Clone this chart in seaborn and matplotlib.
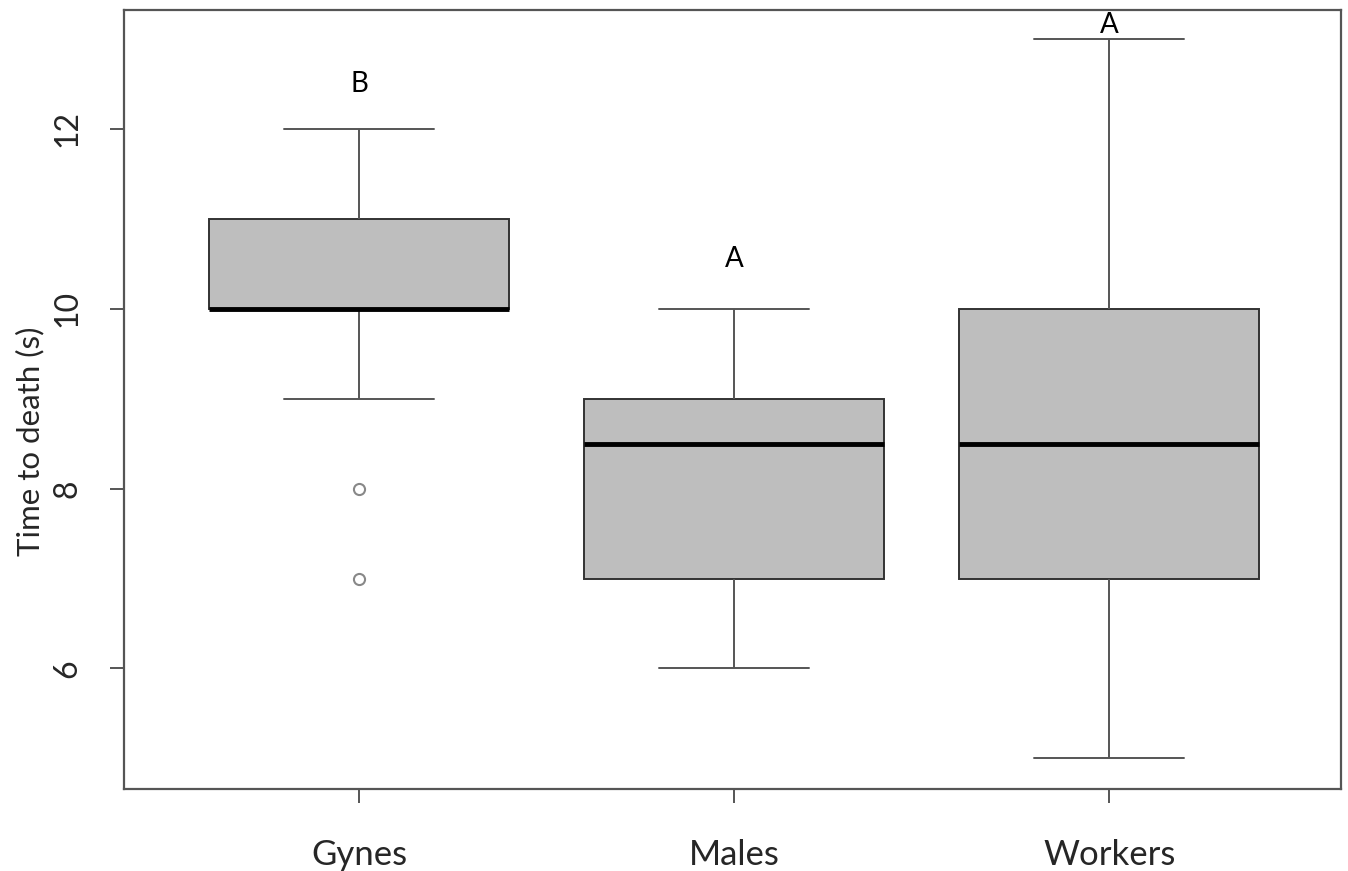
import numpy as np
import pandas as pd
import matplotlib
matplotlib.use("Agg")
import matplotlib.pyplot as plt
import seaborn as sns

# dados (tempo até a morte, em segundos)
castas = ["Gynes", "Males", "Workers"]
gynes = [7, 8, 9, 10, 10, 10, 10, 10, 10, 11, 11, 11, 12]
males = [6, 7, 7, 7, 8, 8, 9, 9, 9, 9, 10, 10]
workers = [5, 7, 7, 7, 8, 8, 9, 10, 10, 10, 12, 13]
letras = ["B", "A", "A"]
pos_letras = [12.5, 10.55, 13.15]

df = pd.DataFrame({
    "casta": ["Gynes"] * len(gynes) + ["Males"] * len(males) + ["Workers"] * len(workers),
    "tempo": gynes + males + workers,
})

sns.set_style("white")
plt.rcParams["font.family"] = ["Lato", "DejaVu Sans"]

fig = plt.figure(figsize=(13.48, 8.71), dpi=100)
ax = fig.add_axes([124 / 1348, 1 - 789 / 871, (1341 - 124) / 1348, (789 - 10) / 871])

cinza = "#555555"
sns.boxplot(data=df, x="casta", y="tempo", order=castas, ax=ax,
            color="#bebebe", width=0.8, linewidth=1.4,
            boxprops=dict(facecolor="#bebebe", edgecolor="#333333"),
            whiskerprops=dict(color=cinza),
            capprops=dict(color=cinza),
            medianprops=dict(color="black", linewidth=3.5),
            flierprops=dict(marker="o", markersize=8, markerfacecolor="none",
                            markeredgecolor="#888888", markeredgewidth=1.5))

for i, (letra, y) in enumerate(zip(letras, pos_letras)):
    ax.text(i, y, letra, ha="center", va="center", fontsize=20, color="black")

ax.set_xlim(-0.627, 2.618)
ax.set_ylim(4.66, 13.32)
ax.set_yticks([6, 8, 10, 12])
ax.set_xlabel("")
ax.set_ylabel("")
for lbl in ax.get_yticklabels():
    lbl.set_rotation(90)
    lbl.set_va("center")
ax.tick_params(axis="y", labelsize=23, length=10, width=1.4, color=cinza, pad=20, left=True)
ax.tick_params(axis="x", labelsize=25, length=10, width=1.4, color=cinza, pad=26, bottom=True)
for s in ax.spines.values():
    s.set_color(cinza)
    s.set_linewidth(1.6)

fig.text(30 / 1348, 1 - 441 / 871, "Time to death (s)", rotation=90,
         ha="center", va="center", fontsize=22.5)

fig.savefig("out.png", dpi=100, facecolor="white")
